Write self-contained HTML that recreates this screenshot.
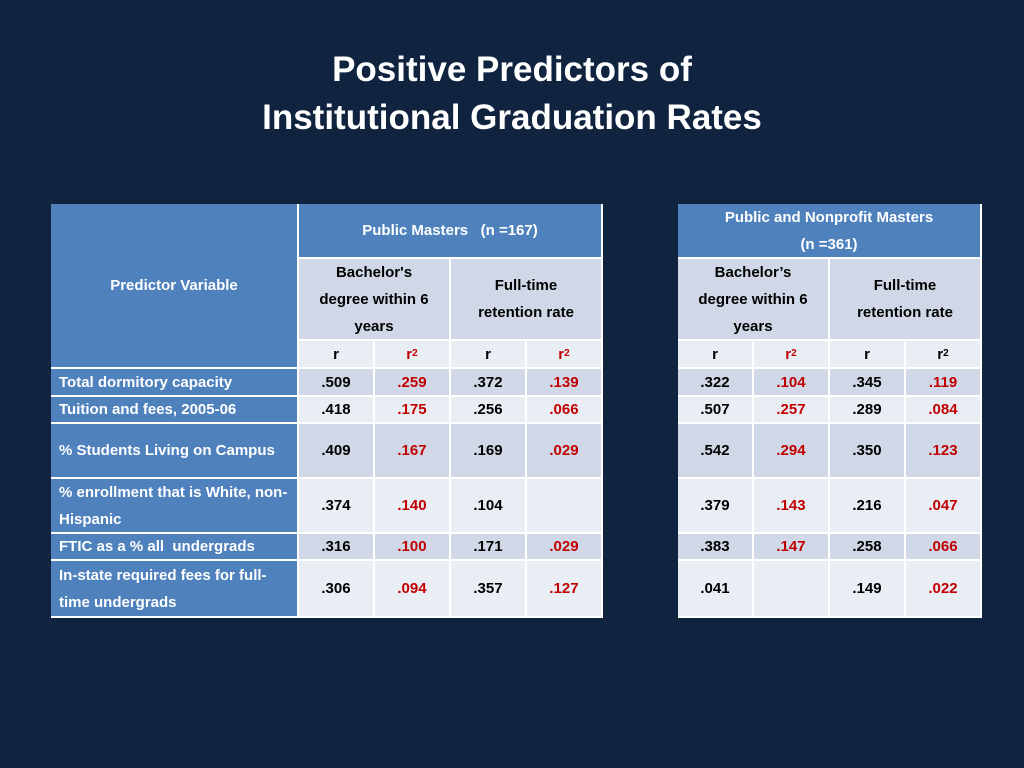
<!DOCTYPE html>
<html><head><meta charset="utf-8"><style>
body{margin:0;width:1024px;height:768px;background:#10233f;overflow:hidden;font-family:"Liberation Sans",sans-serif;position:relative}
#title{position:absolute;left:0;top:46px;width:1024px;text-align:center;color:#fff;font-weight:bold;font-size:35px;line-height:48px}
.c{position:absolute;box-sizing:border-box;display:flex;align-items:center;justify-content:center;text-align:center;font-weight:bold;font-size:15px;line-height:27px;color:#000;border-right:2px solid #fff;border-bottom:2px solid #fff}
.h{background:#4f81bd;color:#fff}
.l{justify-content:flex-start;text-align:left;padding-left:8px;background:#4f81bd;color:#fff}
.a{background:#d0d8e8}.b{background:#e9edf4}
.red{color:#c00000}
sup{font-size:10px;line-height:0}
.tb{position:absolute;border:1px solid #fff}
</style></head><body>
<div id="title">Positive Predictors of<br>Institutional Graduation Rates</div>
<div id="root"></div>
<script>
const labels=["Total dormitory capacity","Tuition and fees, 2005-06","% Students Living on Campus","% enrollment that is White, non-Hispanic","FTIC as a % all&nbsp; undergrads","In-state required fees for full-time undergrads"];
const t1=[[".509",".259",".372",".139"],[".418",".175",".256",".066"],[".409",".167",".169",".029"],[".374",".140",".104",""],[".316",".100",".171",".029"],[".306",".094",".357",".127"]];
const t2=[[".322",".104",".345",".119"],[".507",".257",".289",".084"],[".542",".294",".350",".123"],[".379",".143",".216",".047"],[".383",".147",".258",".066"],[".041","",".149",".022"]];
const rowY=[369,397,424,479,534,561,618];
const root=document.getElementById('root');
function cell(x,y,w,h,cls,html,name){
 const d=document.createElement('div');
 d.className='c '+cls;
 d.style.left=x+'px';d.style.top=y+'px';d.style.width=w+'px';d.style.height=h+'px';
 d.innerHTML=html;
 
 
 root.appendChild(d);
}
function table(x0,data,head,tname,withLabels){
 if(withLabels){
  cell(51,204,248,165,'h','Predictor Variable','predictor-variable-header');
  for(let i=0;i<6;i++) cell(51,rowY[i],248,rowY[i+1]-rowY[i],'l',labels[i],'predictor-label');
 }
 cell(x0,204,304,55,'h',head,tname+'-group-header');
 cell(x0,259,152,82,'a',"Bachelor"+(withLabels?"'":"’")+"s<br>degree within 6<br>years",tname+'-bachelor-header');
 cell(x0+152,259,152,82,'a','Full-time<br>retention rate',tname+'-retention-header');
 const sub=['r','r<sup>2</sup>','r','r<sup>2</sup>'];
 for(let j=0;j<4;j++) cell(x0+76*j,341,76,28,'b'+(j%2&&!(withLabels===false&&j==3)?' red':''),sub[j],tname+'-subheader');
 for(let i=0;i<6;i++)for(let j=0;j<4;j++)
  cell(x0+76*j,rowY[i],76,rowY[i+1]-rowY[i],(i%2?'b':'a')+(j%2?' red':''),data[i][j],tname+'-value-cell');
}
table(299,t1,'Public Masters &nbsp; (n =167)','public-masters',true);
table(678,t2,'Public and Nonprofit Masters<br>(n =361)','public-nonprofit-masters',false);
</script>
</body></html>
